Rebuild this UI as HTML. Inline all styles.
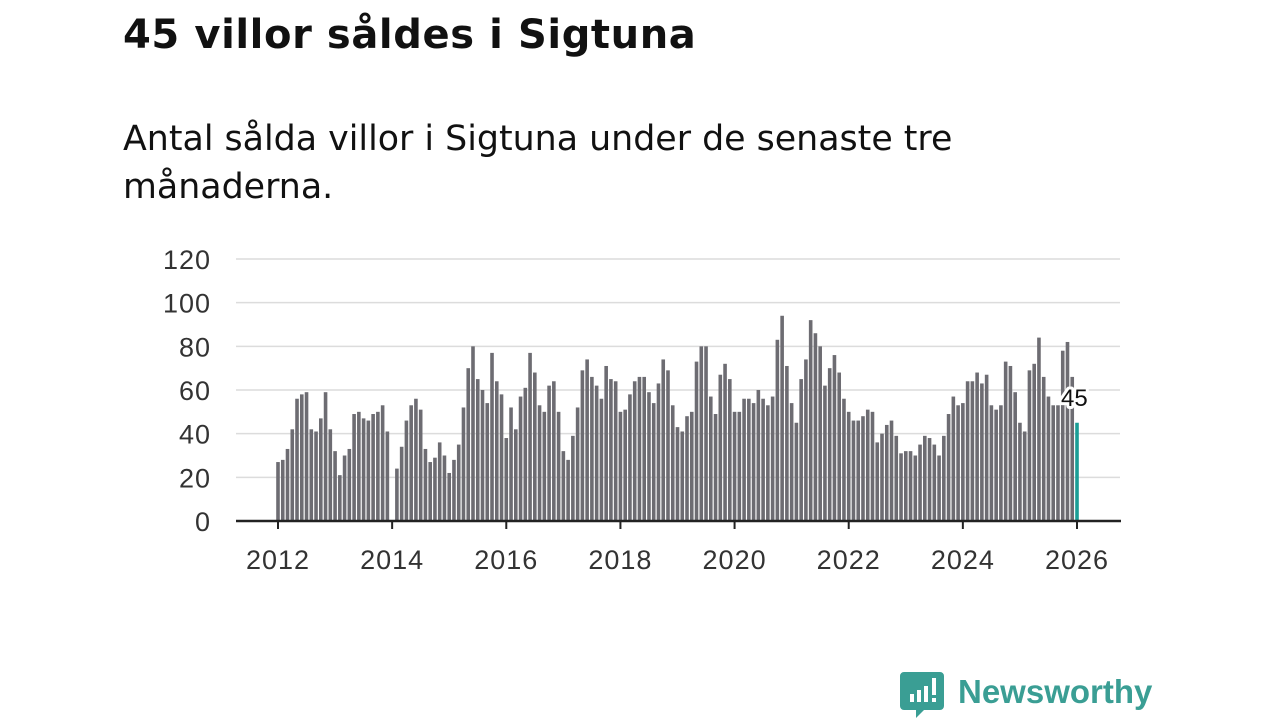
<!DOCTYPE html>
<html><head><meta charset="utf-8">
<style>
body{margin:0;width:1280px;height:720px;background:#fff;font-family:"Liberation Sans",sans-serif;overflow:hidden;position:relative}
h1{position:absolute;left:123px;top:12px;margin:0;font-family:"DejaVu Sans",sans-serif;font-size:40px;letter-spacing:0.6px;font-weight:bold;color:#111}
.sub{position:absolute;left:123px;top:115px;margin:0;font-family:"DejaVu Sans",sans-serif;font-size:34.8px;line-height:48px;color:#111;width:1100px}
svg{position:absolute;left:0;top:0}
</style></head><body>
<h1>45 villor såldes i Sigtuna</h1>
<p class="sub">Antal sålda villor i Sigtuna under de senaste tre<br>månaderna.</p>
<svg id="chart" width="1280" height="720"></svg>
<svg width="1280" height="720">
<path d="M904 672 h36 a4 4 0 0 1 4 4 v30 a4 4 0 0 1 -4 4 h-16 l-8 8 v-8 h-12 a4 4 0 0 1 -4 -4 v-30 a4 4 0 0 1 4 -4z" fill="#3a9e94"/>
<rect x="910" y="694" width="4" height="8" fill="#fff"/><rect x="917" y="690" width="4" height="12" fill="#fff"/><rect x="924" y="686" width="4" height="16" fill="#fff"/><rect x="932" y="678" width="4" height="17" fill="#fff"/><rect x="932" y="698" width="4" height="4" fill="#fff"/>
<text x="958" y="703" font-size="33" font-weight="bold" fill="#3a9e94" font-family="Liberation Sans, sans-serif">Newsworthy</text>
</svg>
<script>
const values2012=[27,28,33,42,56,58,59,42,41,47,59,42];
const values2013=[32,21,30,33,49,50,47,46,49,50,53,41];
const values2014=[0,24,34,46,53,56,51,33,27,29,36,30];
const values2015=[22,28,35,52,70,80,65,60,54,77,64,58];
const values2016=[38,52,42,57,61,77,68,53,50,62,64,50];
const values2017=[32,28,39,52,69,74,66,62,56,71,65,64];
const values2018=[50,51,58,64,66,66,59,54,63,74,69,53];
const values2019=[43,41,48,50,73,80,80,57,49,67,72,65];
const values2020=[50,50,56,56,54,60,56,53,57,83,94,71];
const values2021=[54,45,65,74,92,86,80,62,70,76,68,56];
const values2022=[50,46,46,48,51,50,36,40,44,46,39,31];
const values2023=[32,32,30,35,39,38,35,30,39,49,57,53];
const values2024=[54,64,64,68,63,67,53,51,53,73,71,59];
const values2025=[45,41,69,72,84,66,57,53,53,78,82,66];
const values2026=[45];
const yTicks=[0,20,40,60,80,100,120];
const xTicks=[2012,2014,2016,2018,2020,2022,2024,2026];
const values=[].concat(values2012,values2013,values2014,values2015,values2016,values2017,values2018,values2019,values2020,values2021,values2022,values2023,values2024,values2025,values2026);
const NS="http://www.w3.org/2000/svg";
const svg=document.getElementById('chart');
const y=v=>521-v*(262/120);
const x=t=>278+(t-2012)*(799/14);
function mk(tag,a){const e=document.createElementNS(NS,tag);for(const k in a)e.setAttribute(k,a[k]);svg.appendChild(e);return e;}
yTicks.forEach(t=>{
  if(t>0){const g=mk('line',{x1:236,x2:1120,y1:y(t),y2:y(t),stroke:'#dcdcdc','stroke-width':1.5});
  
  }
  const l=mk('text',{x:211,y:y(t)+10,'text-anchor':'end','font-size':27,'letter-spacing':1,fill:'#333'});l.textContent=t;
  
  
});
values.forEach((v,i)=>{
  const last=i===values.length-1;
  const b=mk('rect',{x:x(2012+i/12)-1.8,y:y(v),width:3.6,height:521-y(v),fill:last?'#1a9e96':'#6d6c72'});
  
  
});
const ax=mk('line',{x1:236,x2:1121,y1:521,y2:521,stroke:'#222','stroke-width':2.5});


xTicks.forEach(t=>{
  const tk=mk('line',{x1:x(t),x2:x(t),y1:521,y2:529,stroke:'#222','stroke-width':2});
  
  
  const l=mk('text',{x:x(t),y:569,'text-anchor':'middle','font-size':27,'letter-spacing':1,fill:'#333'});l.textContent=t;
  
  
});
const lv=values[values.length-1];
const lab=mk('text',{x:x(2026)-16,y:y(lv)-17,'font-size':24,fill:'#111',stroke:'#fff','stroke-width':6,'paint-order':'stroke','stroke-linejoin':'round'});
lab.textContent=lv;


</script>
</body></html>
